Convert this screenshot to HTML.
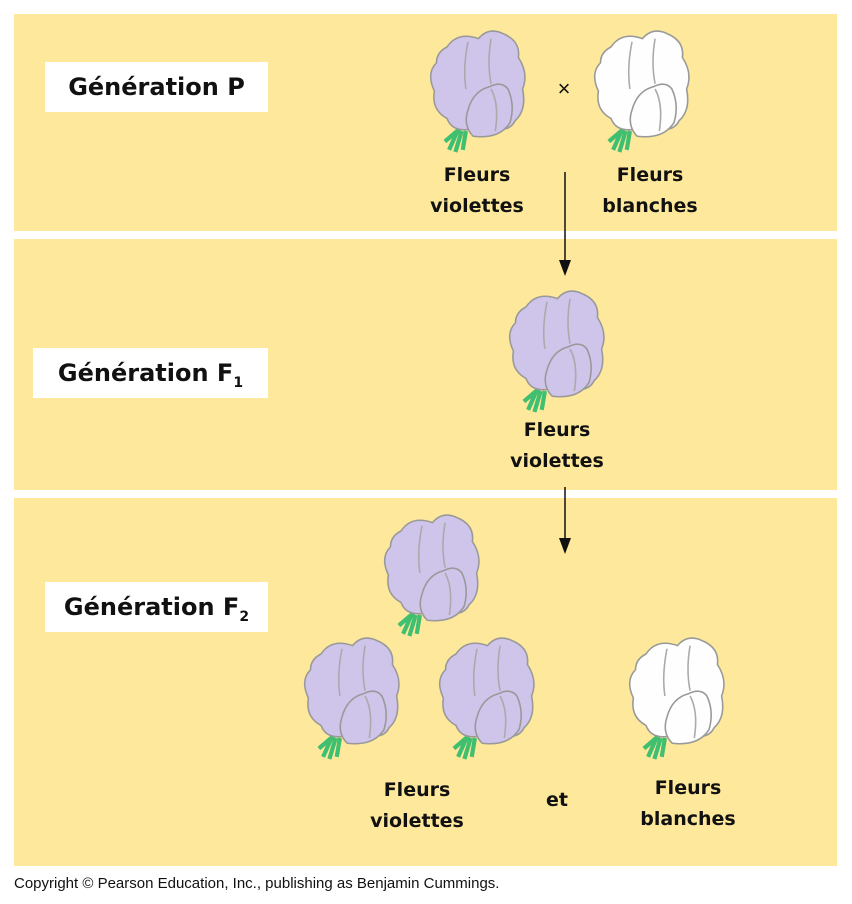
<!DOCTYPE html>
<html><head><meta charset="utf-8"><style>
body{margin:0;width:852px;height:904px;background:#fff;position:relative;overflow:hidden;font-family:"Liberation Sans",sans-serif}
.p{position:absolute;left:14px;width:823px;background:#fde89b}
.lab{position:absolute;background:#fff;font-weight:bold;font-size:24px;text-align:center;color:#111;font-family:"DejaVu Sans","Liberation Sans",sans-serif}
.t{position:absolute;font-weight:bold;font-size:19px;text-align:center;line-height:31px;color:#111;font-family:"DejaVu Sans","Liberation Sans",sans-serif;width:140px}
svg{position:absolute;left:0;top:0}
</style></head><body>
<div class="p" style="top:14px;height:217px"></div>
<div class="p" style="top:239px;height:251px"></div>
<div class="p" style="top:498px;height:368px"></div>
<div class="lab" style="left:45px;top:62px;width:223px;height:50px;line-height:50px">Génération P</div>
<div class="lab" style="left:33px;top:348px;width:235px;height:50px;line-height:50px">Génération F<sub style="font-size:14px">1</sub></div>
<div class="lab" style="left:45px;top:582px;width:223px;height:50px;line-height:50px">Génération F<sub style="font-size:14px">2</sub></div>
<div class="t" style="left:407px;top:160px">Fleurs<br>violettes</div>
<div class="t" style="left:580px;top:160px">Fleurs<br>blanches</div>
<div class="t" style="left:487px;top:415px">Fleurs<br>violettes</div>
<div class="t" style="left:347px;top:775px">Fleurs<br>violettes</div>
<div class="t" style="left:618px;top:773px">Fleurs<br>blanches</div>
<div class="t" style="left:487px;top:785px">et</div>
<div style="position:absolute;left:14px;top:875px;font-size:15px;color:#111">Copyright © Pearson Education, Inc., publishing as Benjamin Cummings.</div>
<svg width="852" height="904">
<defs>
<g id="f" transform="scale(1.05)">
<path d="M22 118 L30 100 M28 120 L34 100 M35 118 L38 100 M18 110 L32 98" stroke="#3fbf6f" stroke-width="4" fill="none"/>
<path d="M20 20 Q30 5 50 12 Q60 0 75 8 Q90 15 88 30 Q98 45 92 60 Q96 80 85 90 Q80 100 68 98 Q55 108 45 98 Q25 102 20 88 Q5 80 8 62 Q0 45 10 35 Q10 25 20 20Z" fill="var(--c)" stroke="#999" stroke-width="1.5"/>
<path d="M40 15 Q35 40 38 60 M62 12 Q58 35 62 55" stroke="#aaa" stroke-width="1.5" fill="none"/>
<path d="M45 105 Q35 95 40 80 Q45 62 60 58 Q72 52 78 60 Q85 75 80 92 Q70 108 45 105Z" fill="var(--c)" stroke="#999" stroke-width="1.5"/>
<path d="M62 60 Q70 75 66 100" stroke="#aaa" stroke-width="1.5" fill="none"/>
</g>
</defs>
<use href="#f" x="426" y="26" style="--c:#cfc4ea"/>
<use href="#f" x="590" y="26" style="--c:#fefefe"/>
<use href="#f" x="505" y="286" style="--c:#cfc4ea"/>
<use href="#f" x="380" y="510" style="--c:#cfc4ea"/>
<use href="#f" x="300" y="633" style="--c:#cfc4ea"/>
<use href="#f" x="435" y="633" style="--c:#cfc4ea"/>
<use href="#f" x="625" y="633" style="--c:#fefefe"/>
<text x="564" y="96" font-size="22" text-anchor="middle" font-family="Liberation Sans" fill="#111">×</text>
<line x1="565" y1="172" x2="565" y2="262" stroke="#111" stroke-width="1.5"/>
<path d="M559 260 L565 276 L571 260Z" fill="#111"/>
<line x1="565" y1="487" x2="565" y2="540" stroke="#111" stroke-width="1.5"/>
<path d="M559 538 L565 554 L571 538Z" fill="#111"/>
</svg>
</body></html>
